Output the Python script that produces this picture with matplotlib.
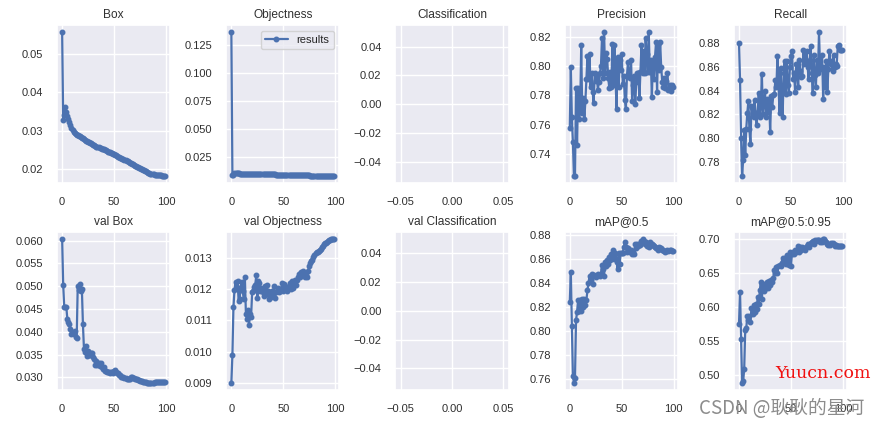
import matplotlib
matplotlib.use('Agg')
import matplotlib.pyplot as plt
import numpy as np
import seaborn as sns

# values, one per epoch
box = [.0556, .0327, .0342, .0362, .0350, .0338, .0330, .0322, .0314, .0308,
       .0302, .0298, .0295, .0292, .0290, .0288, .0287, .0286, .0285, .0282,
       .0280, .0278, .0276, .0274, .0273, .0271, .0270, .0268, .0267, .0265,
       .0264, .0262, .0260, .0259, .0258, .0257, .0256, .0255, .0254, .0253,
       .0252, .0250, .0249, .0248, .0246, .0245, .0244, .0243, .0242, .0241,
       .0239, .0238, .0236, .0234, .0233, .0231, .0230, .0229, .0227, .0226,
       .0225, .0224, .0222, .0221, .0219, .0217, .0216, .0214, .0213, .0211,
       .0209, .0208, .0206, .0205, .0204, .0203, .0202, .0200, .0199, .0197,
       .0196, .0195, .0193, .0191, .0190, .0189, .0188, .0187, .0187, .0186,
       .0186, .0185, .0185, .0185, .0184, .0184, .0183, .0183, .0182, .0183]
objectness = [.1360, .0085, .0090, .0102, .0103, .0101, .0100, .0100, .0099, .0099,
              .0099, .0098, .0098, .0098, .0097, .0097, .0097, .0097, .0096, .0096,
              .0096, .0096, .0095, .0095, .0095, .0095, .0094, .0094, .0094, .0094,
              .0093, .0093, .0093, .0093, .0093, .0092, .0092, .0092, .0092, .0091,
              .0091, .0091, .0091, .0090, .0090, .0090, .0090, .0090, .0089, .0089,
              .0089, .0089, .0088, .0088, .0088, .0088, .0087, .0087, .0087, .0087,
              .0086, .0086, .0086, .0086, .0085, .0085, .0085, .0084, .0084, .0084,
              .0083, .0083, .0083, .0082, .0082, .0082, .0081, .0081, .0081, .0080,
              .0080, .0080, .0079, .0079, .0079, .0078, .0078, .0078, .0078, .0077,
              .0077, .0077, .0077, .0076, .0076, .0076, .0076, .0075, .0075, .0075]
precision = [.758, .799, .765, .748, .725, .725, .785, .746, .785, .764,
             .771, .814, .768, .778, .764, .776, .791, .807, .791, .808,
             .786, .795, .782, .775, .795, .790, .793, .784, .789, .795,
             .800, .819, .792, .823, .795, .809, .805, .792, .785, .796,
             .786, .815, .787, .814, .792, .771, .806, .786, .804, .797,
             .808, .788, .793, .777, .771, .793, .803, .793, .792, .804,
             .776, .787, .793, .774, .789, .795, .795, .778, .796, .814,
             .795, .810, .795, .819, .808, .796, .823, .796, .804, .779,
             .803, .791, .806, .816, .782, .815, .797, .816, .799, .789,
             .786, .792, .785, .790, .795, .784, .787, .783, .787, .786]
recall = [.880, .849, .800, .768, .782, .807, .786, .808, .821, .831,
          .808, .795, .827, .820, .818, .832, .820, .811, .822, .838,
          .818, .826, .854, .820, .829, .840, .818, .833, .822, .832,
          .805, .835, .826, .836, .837, .849, .843, .869, .845, .821,
          .859, .838, .818, .855, .865, .837, .865, .845, .838, .860,
          .869, .873, .850, .855, .839, .862, .856, .843, .866, .856,
          .851, .852, .874, .862, .866, .873, .860, .850, .866, .877,
          .855, .838, .870, .853, .843, .866, .855, .889, .860, .858,
          .870, .833, .860, .843, .865, .839, .858, .873, .865, .862,
          .856, .870, .860, .862, .861, .877, .878, .874, .874, .874]
val_box = [.0604, .0503, .0455, .0455, .0455, .0428, .0422, .0416, .0405, .0396,
           .0400, .0394, .0402, .0388, .0387, .0500, .0492, .0504, .0490, .0493,
           .0417, .0362, .0355, .0368, .0347, .0358, .0350, .0348, .0353, .0354,
           .0345, .0340, .0327, .0335, .0328, .0332, .0325, .0332, .0322, .0318,
           .0323, .0314, .0313, .0312, .0311, .0311, .0310, .0311, .0311, .0310,
           .0314, .0316, .0312, .0309, .0309, .0306, .0306, .0300, .0300, .0300,
           .0299, .0298, .0296, .0296, .0297, .0296, .0300, .0300, .0299, .0298,
           .0297, .0296, .0296, .0295, .0294, .0292, .0292, .0291, .0290, .0290,
           .0289, .0289, .0288, .0288, .0288, .0288, .0288, .0288, .0288, .0289,
           .0289, .0289, .0289, .0289, .0289, .0289, .0289, .0289, .0289, .0289]
val_objectness = [.00900, .00990, .01142, .01197, .01222, .01205, .01225, .01162, .01170, .01208,
                  .01222, .01195, .01170, .01240, .01122, .01105, .01135, .01085, .01120, .01112,
                  .01190, .01195, .01208, .01215, .01245, .01172, .01225, .01220, .01195, .01205,
                  .01190, .01180, .01212, .01185, .01215, .01195, .01168, .01190, .01175, .01195,
                  .01185, .01212, .01172, .01190, .01195, .01205, .01190, .01195, .01200, .01220,
                  .01195, .01218, .01205, .01200, .01195, .01210, .01220, .01200, .01225, .01205,
                  .01215, .01230, .01215, .01230, .01240, .01250, .01240, .01255, .01245, .01260,
                  .01250, .01240, .01245, .01240, .01260, .01275, .01285, .01290, .01295, .01305,
                  .01310, .01315, .01318, .01320, .01322, .01325, .01330, .01335, .01340, .01345,
                  .01348, .01350, .01352, .01355, .01357, .01358, .01360, .01360, .01361, .01362]
map50 = [.8245, .849, .8045, .763, .757, .761, .809, .816, .826, .817,
         .826, .817, .827, .820, .827, .822, .826, .834, .840, .846,
         .843, .848, .839, .847, .846, .845, .847, .848, .847, .846,
         .848, .855, .852, .846, .858, .854, .859, .856, .862, .859,
         .864, .861, .868, .860, .865, .858, .852, .865, .856, .865,
         .865, .865, .870, .874, .870, .866, .869, .867, .866, .868,
         .864, .866, .864, .873, .869, .873, .871, .873, .872, .875,
         .877, .875, .873, .874, .871, .873, .870, .874, .872, .873,
         .872, .871, .870, .869, .869, .868, .870, .869, .869, .868,
         .868, .867, .866, .867, .868, .867, .868, .868, .867, .867]
map5095 = [.575, .622, .553, .488, .490, .508, .566, .568, .587, .580,
           .586, .577, .598, .590, .603, .592, .604, .596, .615, .604,
           .624, .636, .612, .632, .623, .634, .628, .636, .627, .638,
           .632, .640, .636, .642, .654, .650, .658, .650, .660, .662,
           .660, .665, .672, .664, .672, .663, .676, .668, .662, .680,
           .660, .678, .680, .677, .683, .680, .682, .689, .681, .688,
           .684, .688, .687, .686, .684, .690, .692, .688, .693, .694,
           .695, .696, .693, .698, .696, .698, .698, .698, .695, .697,
           .695, .700, .700, .697, .695, .692, .691, .693, .691, .694,
           .694, .692, .690, .691, .690, .690, .690, .690, .689, .689]
empty = [np.nan, np.nan, np.nan]

titles = ['Box', 'Objectness', 'Classification', 'Precision', 'Recall',
          'val Box', 'val Objectness', 'val Classification', 'mAP@0.5', 'mAP@0.5:0.95']
series = [box, objectness, empty, precision, recall,
          val_box, val_objectness, empty, map50, map5095]

sns.set_theme(style='darkgrid')
plt.rcParams['font.family'] = ['Liberation Sans', 'Noto Sans CJK SC']

fig, axes = plt.subplots(2, 5, figsize=(8.86, 4.28), dpi=100)
fig.subplots_adjust(left=57 / 886, right=847 / 886, top=1 - 25 / 428, bottom=1 - 390 / 428,
                    wspace=56 / 113, hspace=48 / 158)

for ax, title, values in zip(axes.ravel(), titles, series):
    ax.plot(np.arange(len(values)), values, marker='.', linewidth=1.6, markersize=6.5, label='results')
    ax.set_title(title, fontsize=8.6, color='#303030', pad=5)
    ax.tick_params(labelsize=8, pad=4, labelcolor='#303030')

axes[0, 1].legend(loc='upper right', fontsize=8)

# watermarks on the saved image
fig.text(775 / 886, 1 - 374 / 428, 'Yuucn.com', color='#f01010', fontsize=12.5,
         family=['DejaVu Serif'], va='center', ha='left')
fig.text(699 / 886, 1 - 408 / 428, 'CSDN @耿耿的星河', color='#8c8c8c', fontsize=13.5,
         family=['Noto Sans CJK SC', 'DejaVu Sans'], va='center', ha='left')

fig.savefig('out.png', dpi=100)
